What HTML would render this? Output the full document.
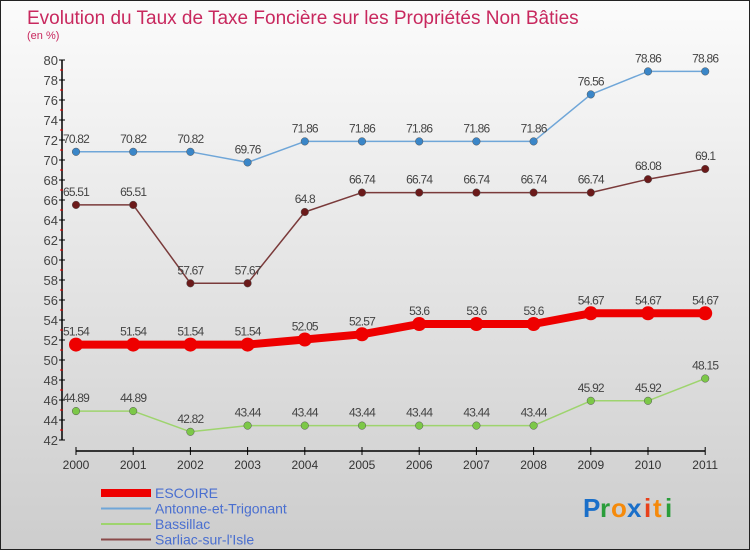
<!DOCTYPE html>
<html><head><meta charset="utf-8"><style>
body{margin:0;width:750px;height:550px;overflow:hidden;font-family:"Liberation Sans",sans-serif}
#c{position:absolute;left:0;top:0;width:748px;height:548px;border:1px solid #222;background:linear-gradient(#fbfbfb,#f2f2f2 20%,#cdcdcd)}
</style></head><body>
<div id="c">
<svg id="s" width="748" height="548" xmlns="http://www.w3.org/2000/svg" style="font-family:'Liberation Sans',sans-serif">
<text x="26" y="23" font-size="19" fill="#c8285e">Evolution du Taux de Taxe Foncière sur les Propriétés Non Bâties</text>
<text x="26" y="38" font-size="11" fill="#c8285e">(en %)</text>
<g id="axes"></g><g id="series"></g><g id="legend"></g>
<g font-size="26" font-weight="bold">
<text x="582" y="516" fill="#1a6fc9">P</text><text x="599" y="516" fill="#2a9d3a">r</text><text x="610" y="516" fill="#f58a0b">o</text><text x="626" y="516" fill="#1a6fc9">x</text><text x="643" y="516" fill="#e8401a">i</text><text x="652" y="516" fill="#f58a0b">t</text><text x="664" y="516" fill="#2a9d3a">i</text>
</g>
</svg></div>
<script>
const years=["2000","2001","2002","2003","2004","2005","2006","2007","2008","2009","2010","2011"];
const escoire=[51.54,51.54,51.54,51.54,52.05,52.57,53.6,53.6,53.6,54.67,54.67,54.67];
const antonne=[70.82,70.82,70.82,69.76,71.86,71.86,71.86,71.86,71.86,76.56,78.86,78.86];
const bassillac=[44.89,44.89,42.82,43.44,43.44,43.44,43.44,43.44,43.44,45.92,45.92,48.15];
const sarliac=[65.51,65.51,57.67,57.67,64.8,66.74,66.74,66.74,66.74,66.74,68.08,69.1];
const yTicks=[42,44,46,48,50,52,54,56,58,60,62,64,66,68,70,72,74,76,78,80];
const names=["ESCOIRE","Antonne-et-Trigonant","Bassillac","Sarliac-sur-l'Isle"];
const NS="http://www.w3.org/2000/svg";
const Y=v=>59+(80-v)*10, X=i=>75+i*57.2;
function mk(p,t,a){const e=document.createElementNS(NS,t);for(const k in a)e.setAttribute(k,a[k]);p.appendChild(e);return e;}
const ax=document.getElementById('axes');
let yl=mk(ax,'line',{x1:61,y1:Y(80),x2:61,y2:Y(42),stroke:'#000','stroke-width':1.5});


yTicks.forEach(v=>{
 mk(ax,'line',{x1:58,x2:64,y1:Y(v),y2:Y(v),stroke:'#000'});
 if(v<80)mk(ax,'line',{x1:59,x2:62,y1:Y(v+1),y2:Y(v+1),stroke:'#e00'});
 const t=mk(ax,'text',{x:57,y:Y(v)+5,'text-anchor':'end','font-size':13,fill:'#444'});t.textContent=v;
 
 
});
let xl=mk(ax,'line',{x1:X(0),x2:X(11),y1:450,y2:450,stroke:'#000','stroke-width':1.5});


years.forEach((y,i)=>{
 mk(ax,'line',{x1:X(i),x2:X(i),y1:446,y2:454,stroke:'#000'});
 const t=mk(ax,'text',{x:X(i),y:468,'text-anchor':'middle','font-size':12,fill:'#333'});t.textContent=y;
 
 
});
const sg=document.getElementById('series');
function series(d,col,dot,w,r,name){
 const g=mk(sg,'g',{});
 
 
 mk(g,'polyline',{points:d.map((v,i)=>X(i)+','+Y(v)).join(' '),fill:'none',stroke:col,'stroke-width':w,'stroke-linejoin':'round'});
 d.forEach((v,i)=>{
  const c=mk(g,'circle',{cx:X(i),cy:Y(v),r:r,fill:dot,stroke:w>3?'none':'#555','stroke-width':0.5});
  
  
  const t=mk(g,'text',{x:X(i),y:Y(v)-9,'text-anchor':'middle','font-size':12,fill:'#444','letter-spacing':'-0.8'});t.textContent=v;
  
  
 });
}
series(antonne,'#6fa6d8','#3a86c8',1.5,3.8,'series-antonne');
series(sarliac,'#7a3a3a','#6b1a1a',1.5,3.8,'series-sarliac');
series(bassillac,'#9ed46e','#7cc848',1.5,3.8,'series-bassillac');
series(escoire,'#ee0000','#ee0000',8,7,'series-escoire');
const lg=document.getElementById('legend');
const cols=['#ee0000','#6fa6d8','#9ed46e','#8a4a4a'],ws=[8,2,2,2];
names.forEach((n,i)=>{
 const y=492+i*15.5;
 const e=mk(lg,'g',{});
 
 
 mk(e,'line',{x1:100,x2:150,y1:y,y2:y,stroke:cols[i],'stroke-width':ws[i]});
 const t=mk(e,'text',{x:154,y:y+5,'font-size':14,fill:'#4a6fd0'});t.textContent=n;
});
</script>
</body></html>
